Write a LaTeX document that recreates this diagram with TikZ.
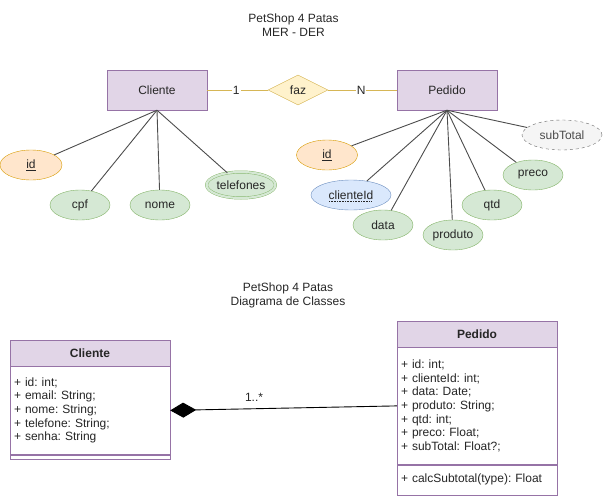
\documentclass[tikz,border=0pt]{standalone}
\usepackage{fontspec}
\setmainfont{Liberation Sans}
\usepackage{tikz}
\usetikzlibrary{shapes.geometric,arrows.meta}
\newcommand\dotunder[1]{\setbox0\hbox{#1}\rlap{\raisebox{-2.5pt}[0pt][0pt]{\hbox to\wd0{\leaders\hbox to 1.6pt{\hss\rule{0.8pt}{0.8pt}\hss}\hfill}}}\box0}
\definecolor{entfill}{HTML}{E1D5E7}
\definecolor{entdraw}{HTML}{9673A6}
\definecolor{relfill}{HTML}{FFF2CC}
\definecolor{reldraw}{HTML}{D6B656}
\definecolor{keyfill}{HTML}{FFE6CC}
\definecolor{keydraw}{HTML}{D79B00}
\definecolor{atrfill}{HTML}{D5E8D4}
\definecolor{atrdraw}{HTML}{82B366}
\definecolor{fkfill}{HTML}{DAE8FC}
\definecolor{fkdraw}{HTML}{6C8EBF}
\definecolor{derfill}{HTML}{F5F5F5}
\definecolor{derdraw}{HTML}{666666}
\tikzset{
	every node/.style={font=\fontsize{12}{14}\selectfont\frenchspacing, text=black!85},
	entity/.style={draw=entdraw, fill=entfill, minimum width=100pt, minimum height=40pt, inner sep=0pt},
	relation/.style={diamond, aspect=2, draw=reldraw, fill=relfill, minimum width=60pt, minimum height=30pt, inner sep=0pt},
	attr/.style={ellipse, draw=atrdraw, fill=atrfill, minimum width=60pt, minimum height=30pt, inner sep=0pt},
	keyattr/.style={attr, draw=keydraw, fill=keyfill},
	link/.style={draw=black!70, line width=0.9pt},
	classhead/.style={draw=entdraw, fill=entfill, minimum width=160pt, minimum height=26pt, inner sep=0pt, font=\fontsize{12}{14}\selectfont\bfseries},
	classbody/.style={draw=entdraw, fill=white, text width=152pt, align=left, inner xsep=4pt, inner ysep=4pt, anchor=north, font=\fontsize{12}{13.7}\selectfont\frenchspacing},
}

\begin{document}
\begin{tikzpicture}[x=1pt, y=-1pt]
		%%%%% START %%%%%
		\useasboundingbox (0, 0) rectangle (603, 498);
		
		\node[align=center] (merTitle) at (293.5, 25) {PetShop 4 Patas\\MER - DER};
		
		\node[entity] (cli) at (157, 90) {Cliente};
		\node[entity] (ped) at (447, 90) {Pedido};
		\node[relation] (faz) at (298, 90) {faz};
		
		\draw[draw=reldraw, line width=0.9pt] (cli) -- node[fill=white, inner sep=1pt, pos=0.48] {1} (faz);
		\draw[draw=reldraw, line width=0.9pt] (faz) -- node[fill=white, inner sep=1pt, pos=0.48] {N} (ped);
		
		% atributos do cliente
		\node[keyattr, minimum width=62pt] (cliId) at (31, 165) {\underline{id}};
		\node[attr] (cliCpf) at (80, 205) {cpf};
		\node[attr] (cliNome) at (160, 205) {nome};
		\node[attr, minimum width=66pt, minimum height=26pt, double=atrfill, double distance=2.2pt] (cliTel) at (241, 185) {telefones};
		
		\foreach \a in {cliId, cliCpf, cliNome, cliTel}
			\draw[link] (cli.south) -- (\a);
		
		% atributos do pedido
		\node[keyattr, minimum width=61pt] (pedId) at (327, 155) {\underline{id}};
		\node[attr, draw=fkdraw, fill=fkfill, minimum width=80pt] (pedCli) at (351, 195) {\dotunder{clienteId}};
		\node[attr] (pedData) at (383, 225) {data};
		\node[attr] (pedProd) at (453, 235) {produto};
		\node[attr] (pedQtd) at (492, 205) {qtd};
		\node[attr] (pedPreco) at (533, 175) {preco};
		\node[attr, draw=derdraw, fill=derfill, dashed, minimum width=80pt] (pedSub) at (562, 135) {\textcolor{black!70}{subTotal}};
		
		\foreach \a in {pedId, pedCli, pedData, pedProd, pedQtd, pedPreco, pedSub}
			\draw[link] (ped.south) -- (\a);
		
		% diagrama de classes
		\node[align=center] (umlTitle) at (288, 295) {PetShop 4 Patas\\Diagrama de Classes};
		
		\node[classhead] (clsCli) at (90, 353) {Cliente};
		\node[classbody, minimum height=88pt] (clsCliAttr) at (clsCli.south) {+ id: int;\\+ email: String;\\+ nome: String;\\+ telefone: String;\\+ senha: String};
		\node[classbody, minimum height=4pt, inner ysep=0pt] (clsCliOps) at (clsCliAttr.south) {};
		
		\node[classhead] (clsPed) at (477, 334) {Pedido};
		\node[classbody, minimum height=117pt] (clsPedAttr) at (clsPed.south) {+ id: int;\\+ clienteId: int;\\+ data: Date;\\+ produto: String;\\+ qtd: int;\\+ preco: Float;\\+ subTotal: Float?;\\[7pt]};
		\node[classbody, minimum height=30pt] (clsPedOps) at (clsPedAttr.south) {+ calcSubtotal(type): Float};
		
		\draw[line width=0.9pt, {Diamond[length=26pt, width=15pt]}-] (clsCliAttr.east) -- node[pos=0.37, above=3pt] {1..*} (clsPedAttr.west);
		%%%%% END %%%%%
	\end{tikzpicture}
\end{document}
